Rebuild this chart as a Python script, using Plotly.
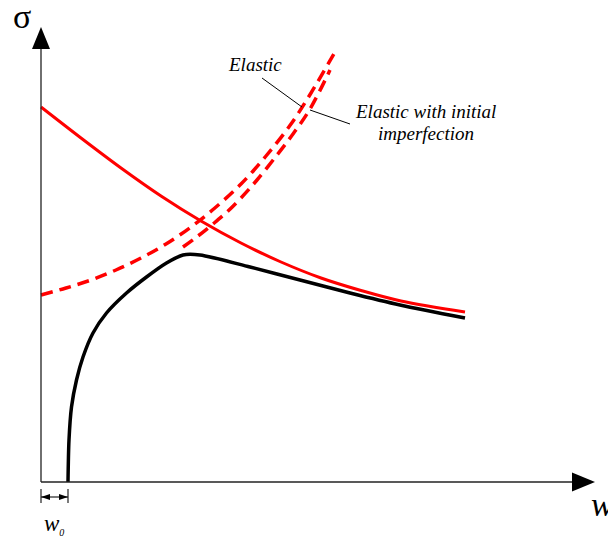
import plotly.graph_objects as go

# Schematic stress (sigma) versus lateral deflection (w) curves.
# Units are arbitrary drawing units: w measured from the sigma axis, sigma from the w axis.

# Post-buckling / ultimate strength envelope (red solid)
envelope_w = [0, 40, 80, 120, 160, 200, 240, 280, 320, 360, 424]
envelope_s = [375, 344, 314, 286, 261, 239, 220, 204, 191.5, 181, 170]

# Actual response of the imperfect member (black)
actual_w = [27, 28, 30.5, 35.5, 42, 52, 65.5, 85.5, 105.5, 125.5, 142, 159, 209, 259, 309, 359, 424]
actual_s = [0, 42, 75, 102, 125, 149, 169, 189, 205, 219, 227, 227, 215, 202, 189, 177, 164]

# Elastic path (red dashed, starts on the sigma axis)
elastic_w = [0, 25, 50, 75, 100, 125, 150, 175, 200, 225, 250, 270, 294]
elastic_s = [187, 194, 202, 212, 224, 238, 255, 275, 298, 326, 358, 389, 430]

# Elastic path with initial imperfection (red dashed, from the peak of the actual response)
imperfect_w = [142, 157, 172, 186, 200, 216, 236, 252, 269, 289]
imperfect_s = [235, 246, 258, 270, 284, 302, 327, 348, 373, 412]

# Initial imperfection amplitude
w0 = 27

RED = "#ff0000"
SERIF = "Liberation Serif, Times New Roman, serif"

fig = go.Figure()

dash_line = dict(color=RED, width=3.5, dash="12px,7px", shape="spline", smoothing=1.0)
fig.add_trace(go.Scatter(x=elastic_w, y=elastic_s, mode="lines", line=dash_line))
fig.add_trace(go.Scatter(x=imperfect_w, y=imperfect_s, mode="lines", line=dash_line))
fig.add_trace(go.Scatter(x=envelope_w, y=envelope_s, mode="lines",
                         line=dict(color=RED, width=3, shape="spline", smoothing=1.0)))
fig.add_trace(go.Scatter(x=actual_w, y=actual_s, mode="lines",
                         line=dict(color="black", width=3.5, shape="spline", smoothing=0.8)))

AX = "#222222"
shapes = [
    # sigma axis and its arrowhead
    dict(type="line", x0=0, y0=0, x1=0, y1=434, line=dict(color=AX, width=1.3)),
    dict(type="path", path="M 0 455 L -9 433 L 9 433 Z", fillcolor="black",
         line=dict(color="black", width=0)),
    # w axis and its arrowhead
    dict(type="line", x0=0, y0=0, x1=532, y1=0, line=dict(color=AX, width=1.3)),
    dict(type="path", path="M 554 0 L 531 9.5 L 531 -9.5 Z", fillcolor="black",
         line=dict(color="black", width=0)),
    # w0 dimension marker
    dict(type="line", x0=0, y0=-7, x1=0, y1=-21, line=dict(color=AX, width=1.2)),
    dict(type="line", x0=w0, y0=-7, x1=w0, y1=-21, line=dict(color=AX, width=1.2)),
    dict(type="line", x0=0, y0=-15, x1=w0, y1=-15, line=dict(color=AX, width=1.2)),
    dict(type="path", path="M 0 -15 L 9 -12 L 9 -18 Z", fillcolor="black",
         line=dict(color="black", width=0)),
    dict(type="path", path=f"M {w0} -15 L {w0 - 9} -12 L {w0 - 9} -18 Z", fillcolor="black",
         line=dict(color="black", width=0)),
    # leader lines to the curve labels
    dict(type="line", x0=221, y0=404, x1=261, y1=375, line=dict(color="black", width=1)),
    dict(type="line", x0=269, y0=372, x1=309, y1=358, line=dict(color="black", width=1)),
]

annotations = [
    dict(x=-19, y=466, text="σ", showarrow=False,
         font=dict(family=SERIF, size=34, color="black")),
    dict(x=561, y=-22, text="<i>w</i>", showarrow=False,
         font=dict(family=SERIF, size=34, color="black")),
    dict(x=13, y=-42, text="<i>w<sub><span style='font-size:10px'>0</span></sub></i>",
         showarrow=False, font=dict(family=SERIF, size=23, color="black")),
    dict(x=214, y=418, text="<i>Elastic</i>", showarrow=False,
         font=dict(family=SERIF, size=19, color="black")),
    dict(x=384, y=371, text="<i>Elastic with initial</i>", showarrow=False,
         font=dict(family=SERIF, size=19, color="black")),
    dict(x=385, y=349, text="<i>imperfection</i>", showarrow=False,
         font=dict(family=SERIF, size=19, color="black")),
]

fig.update_layout(
    width=608, height=540,
    margin=dict(l=0, r=0, t=0, b=0),
    paper_bgcolor="white", plot_bgcolor="white",
    showlegend=False,
    xaxis=dict(range=[-41, 567], visible=False, fixedrange=True),
    yaxis=dict(range=[-58, 482], visible=False, fixedrange=True),
    shapes=shapes,
    annotations=annotations,
)

fig.write_html("out.html")
